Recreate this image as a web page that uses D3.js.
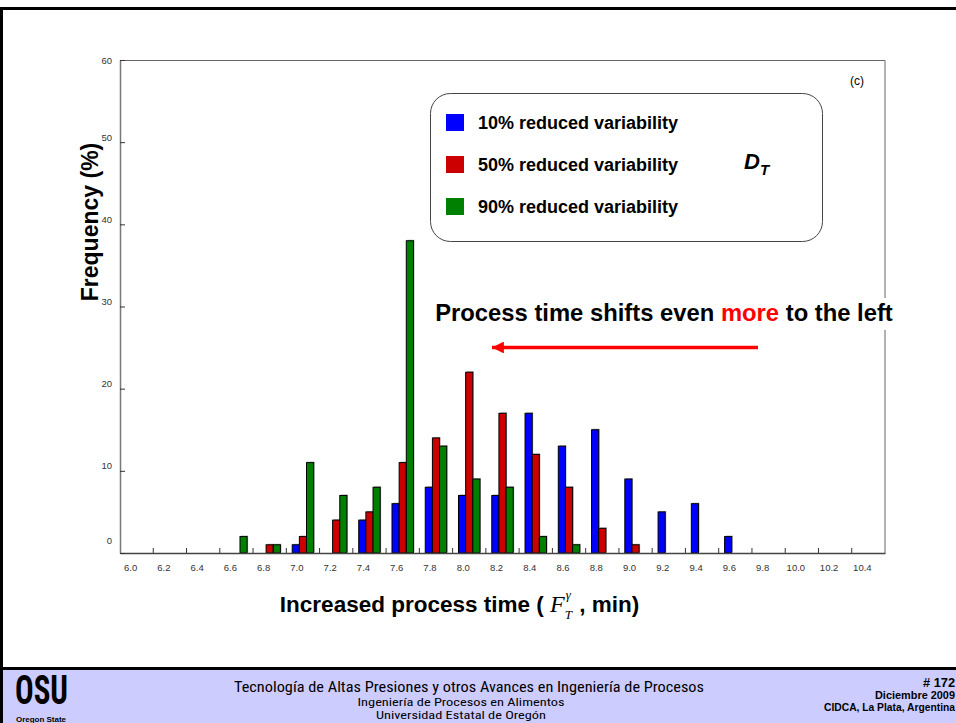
<!DOCTYPE html>
<html>
<head>
<meta charset="utf-8">
<script src="https://cdn.jsdelivr.net/npm/d3@7"></script>
<style>
  body { margin: 0; background: #fff; }
  svg { display: block; font-family: "Liberation Sans", Arial, sans-serif; }
</style>
</head>
<body>
<div id="chart"></div>
<script>
// Chart data
const categories = ["6.0","6.2","6.4","6.6","6.8","7.0","7.2","7.4","7.6","7.8","8.0","8.2",
  "8.4","8.6","8.8","9.0","9.2","9.4","9.6","9.8","10.0","10.2","10.4"];
const seriesNames = ["10% reduced variability", "50% reduced variability", "90% reduced variability"];
const seriesColors = ["#0000ff", "#cc0000", "#008000"];
const reduced10 = [0,0,0,0,0,1,0,4,6,8,7,7,17,13,15,9,5,6,2,0,0,0,0];
const reduced50 = [0,0,0,0,1,2,4,5,11,14,22,17,12,8,3,1,0,0,0,0,0,0,0];
const reduced90 = [0,0,0,2,1,11,7,8,38,13,9,8,2,1,0,0,0,0,0,0,0,0,0];
const yTicks = [0,10,20,30,40,50,60];

const seriesValues = [reduced10, reduced50, reduced90];

const svgWidth = 956;
const svgHeight = 723;
const margin = { top: 60, right: 71, bottom: 170, left: 120 };
const chartWidth = svgWidth - margin.left - margin.right;
const chartHeight = svgHeight - margin.top - margin.bottom;

const svg = d3.select("#chart")
  .append("svg")
  .attr("width", svgWidth)
  .attr("height", svgHeight);

// slide frame + footer band
svg.append("rect").attr("x", 0).attr("y", 669).attr("width", svgWidth).attr("height", 54).attr("fill", "#ccccff");
svg.append("line").attr("x1", 0).attr("x2", svgWidth).attr("y1", 668.5).attr("y2", 668.5)
  .attr("stroke", "#000").attr("stroke-width", 3);
svg.append("line").attr("x1", 0).attr("x2", svgWidth).attr("y1", 8.5).attr("y2", 8.5)
  .attr("stroke", "#000").attr("stroke-width", 3);
svg.append("line").attr("x1", 1.5).attr("x2", 1.5).attr("y1", 7).attr("y2", svgHeight)
  .attr("stroke", "#000").attr("stroke-width", 3);

const chartGroup = svg.append("g")
  .attr("transform", `translate(${margin.left}, ${margin.top})`);

// scales
const x0 = d3.scaleBand()
  .domain(categories)
  .range([0, chartWidth])
  .paddingInner(0.355)
  .paddingOuter(0.1775);

const x1 = d3.scaleBand()
  .domain(d3.range(seriesNames.length))
  .range([0, x0.bandwidth()]);

const yScale = d3.scaleLinear()
  .domain([0, 60])
  .range([chartHeight, 0]);

// frame (top + right)
chartGroup.append("path")
  .attr("d", `M0,0.5H${chartWidth}V${chartHeight}`)
  .attr("fill", "none")
  .attr("stroke", "#666")
  .attr("stroke-width", 1);

// bin boundary ticks (pointing up)
const step = x0.step();
chartGroup.selectAll(".btick")
  .data(d3.range(1, categories.length))
  .enter()
  .append("line")
  .attr("x1", i => i * step)
  .attr("x2", i => i * step)
  .attr("y1", chartHeight)
  .attr("y2", chartHeight - 5)
  .attr("stroke", "#333");

// bars
const barData = [];
seriesValues.forEach((vals, s) => {
  vals.forEach((v, i) => {
    if (v > 0) barData.push({ cat: categories[i], s: s, v: v });
  });
});

chartGroup.selectAll(".shadow")
  .data(barData)
  .enter()
  .append("rect")
  .attr("x", d => x0(d.cat) + x1(d.s) + 1)
  .attr("y", d => yScale(d.v) - 1)
  .attr("width", x1.bandwidth())
  .attr("height", d => chartHeight - yScale(d.v))
  .attr("fill", "#aaa");

chartGroup.selectAll(".bar")
  .data(barData)
  .enter()
  .append("rect")
  .attr("x", d => x0(d.cat) + x1(d.s))
  .attr("y", d => yScale(d.v))
  .attr("width", x1.bandwidth())
  .attr("height", d => chartHeight - yScale(d.v))
  .attr("fill", d => seriesColors[d.s])
  .attr("stroke", "#000")
  .attr("stroke-width", 1);

// x axis
const bottomAxis = d3.axisBottom(x0).tickSize(0).tickPadding(11);
const xAxisG = chartGroup.append("g")
  .attr("transform", `translate(0, ${chartHeight})`)
  .call(bottomAxis);
xAxisG.select(".domain").attr("stroke", "#444").attr("stroke-width", 1.5);
xAxisG.selectAll("text")
  .attr("dx", -6)
  .attr("fill", "#333")
  .style("font-size", "9.5px")
  .style("font-family", "Liberation Sans, Arial, sans-serif");

// y axis
const leftAxis = d3.axisLeft(yScale).tickValues(yTicks).tickSizeInner(-5).tickSizeOuter(0).tickPadding(8);
const yAxisG = chartGroup.append("g").call(leftAxis);
yAxisG.select(".domain").attr("stroke", "#777").attr("stroke-width", 1.5);
yAxisG.selectAll("line").attr("stroke", "#333");
yAxisG.selectAll("text")
  .attr("dy", d => d === 0 ? "-0.95em" : (d === 60 ? "0.32em" : "-0.2em"))
  .attr("fill", "#333")
  .style("font-size", "9.5px")
  .style("font-family", "Liberation Sans, Arial, sans-serif");

// (c) label
svg.append("text")
  .attr("x", 850).attr("y", 85)
  .style("font-size", "12px")
  .text("(c)");

// legend box
svg.append("rect")
  .attr("x", 430.5).attr("y", 93.5)
  .attr("width", 392).attr("height", 148)
  .attr("rx", 20).attr("ry", 20)
  .attr("fill", "#fff")
  .attr("stroke", "#444");

const legend = svg.selectAll(".legend")
  .data(seriesNames)
  .enter()
  .append("g")
  .attr("transform", (d, i) => `translate(446, ${114 + i * 42})`);
legend.append("rect")
  .attr("width", 18).attr("height", 17)
  .attr("fill", (d, i) => seriesColors[i]);
legend.append("text")
  .attr("x", 32).attr("y", 15)
  .style("font-size", "18px")
  .style("font-weight", "bold")
  .text(d => d);

const dt = svg.append("text")
  .attr("x", 744).attr("y", 169)
  .style("font-size", "22px")
  .style("font-weight", "bold")
  .style("font-style", "italic");
dt.append("tspan").text("D");
dt.append("tspan").attr("dy", 6).style("font-size", "15px").text("T");

// annotation
svg.append("rect")
  .attr("x", 428).attr("y", 298)
  .attr("width", 472).attr("height", 32)
  .attr("fill", "#fff");
const note = svg.append("text")
  .attr("x", 664).attr("y", 321)
  .attr("text-anchor", "middle")
  .style("font-size", "23.8px")
  .style("font-weight", "bold");
note.append("tspan").text("Process time shifts even ");
note.append("tspan").attr("fill", "#ff0000").text("more");
note.append("tspan").text(" to the left");

svg.append("defs").append("marker")
  .attr("id", "head")
  .attr("viewBox", "0 0 10 10")
  .attr("refX", 10).attr("refY", 5)
  .attr("markerWidth", 3.4).attr("markerHeight", 3.4)
  .attr("markerUnits", "strokeWidth")
  .attr("orient", "auto")
  .append("path")
  .attr("d", "M0,0L10,5L0,10Z")
  .attr("fill", "#ff0000");
svg.append("line")
  .attr("x1", 758).attr("y1", 347.5)
  .attr("x2", 492).attr("y2", 347.5)
  .attr("stroke", "#ff0000")
  .attr("stroke-width", 3.5)
  .attr("marker-end", "url(#head)");

// axis titles
svg.append("text")
  .attr("transform", "translate(98, 222) rotate(-90)")
  .attr("text-anchor", "middle")
  .style("font-size", "23px")
  .style("font-weight", "bold")
  .text("Frequency (%)");

const serif = "Liberation Serif, Times New Roman, serif";
const xt = svg.append("g");
const xt1 = xt.append("text").attr("y", 612)
  .style("font-size", "22.5px").style("font-weight", "bold")
  .attr("xml:space", "preserve")
  .text("Increased process time ( ");
const fF = xt.append("text").attr("y", 612)
  .style("font-family", serif)
  .style("font-style", "italic").style("font-size", "24px").text("F");
const fT = xt.append("text").attr("y", 619)
  .style("font-family", serif)
  .style("font-style", "italic").style("font-size", "13px").text("T");
const fG = xt.append("text").attr("y", 599)
  .style("font-family", serif)
  .style("font-style", "italic").style("font-size", "13px").text("γ");
const xt2 = xt.append("text").attr("y", 612)
  .attr("xml:space", "preserve")
  .style("font-size", "22.5px").style("font-weight", "bold")
  .text(" , min)");
const w1 = xt1.node().getComputedTextLength();
const wf = fF.node().getComputedTextLength();
const ws = Math.max(fT.node().getComputedTextLength(), fG.node().getComputedTextLength()) + 1;
const w2 = xt2.node().getComputedTextLength();
const startX = 459.5 - (w1 + wf + ws + w2) / 2;
xt1.attr("x", startX);
fF.attr("x", startX + w1);
fT.attr("x", startX + w1 + wf);
fG.attr("x", startX + w1 + wf + 1);
xt2.attr("x", startX + w1 + wf + ws);

// footer
const narrow = "Liberation Sans Narrow, Arial Narrow, Roboto Condensed, sans-serif";
const logo = svg.append("g");
logo.append("text")
  .attr("x", 15).attr("y", 704)
  .attr("textLength", 53).attr("lengthAdjust", "spacingAndGlyphs")
  .style("font-family", narrow).style("font-weight", "bold").style("font-size", "40px")
  .text("OSU");
logo.append("text")
  .attr("x", 16).attr("y", 722)
  .attr("textLength", 50).attr("lengthAdjust", "spacingAndGlyphs")
  .style("font-weight", "bold").style("font-size", "7px")
  .text("Oregon State");

svg.append("text")
  .attr("x", 469).attr("y", 692)
  .attr("text-anchor", "middle")
  .attr("textLength", 470).attr("lengthAdjust", "spacingAndGlyphs")
  .style("font-family", narrow).style("font-size", "15px")
  .text("Tecnología de Altas Presiones y otros Avances en Ingeniería de Procesos");
svg.append("text")
  .attr("x", 461).attr("y", 706)
  .attr("text-anchor", "middle")
  .attr("textLength", 207).attr("lengthAdjust", "spacingAndGlyphs")
  .style("font-family", narrow).style("font-size", "11.5px")
  .text("Ingeniería de Procesos en Alimentos");
svg.append("text")
  .attr("x", 461).attr("y", 719)
  .attr("text-anchor", "middle")
  .attr("textLength", 170).attr("lengthAdjust", "spacingAndGlyphs")
  .style("font-family", narrow).style("font-size", "11.5px")
  .text("Universidad Estatal de Oregón");

const footRight = [
  { t: "# 172", y: 687, s: 12, w: 32 },
  { t: "Diciembre 2009", y: 699, s: 10, w: 80 },
  { t: "CIDCA, La Plata, Argentina", y: 711, s: 10, w: 131 }
];
svg.selectAll(".fr")
  .data(footRight)
  .enter()
  .append("text")
  .attr("x", 955).attr("y", d => d.y)
  .attr("text-anchor", "end")
  .attr("textLength", d => d.w).attr("lengthAdjust", "spacingAndGlyphs")
  .style("font-weight", "bold")
  .style("font-size", d => d.s + "px")
  .text(d => d.t);
</script>
</body>
</html>
